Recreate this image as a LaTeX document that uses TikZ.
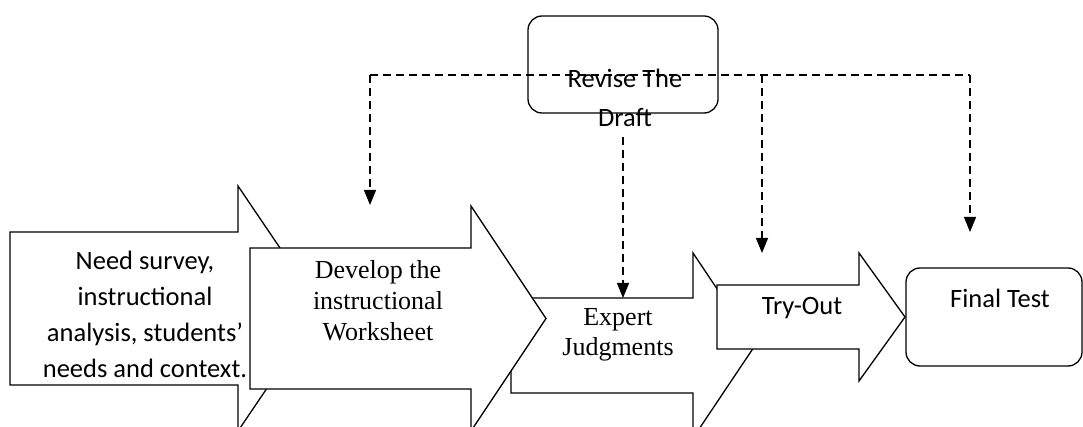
\documentclass[tikz,border=0pt]{standalone}
\usepackage{fontspec}
\setmainfont{Liberation Serif}
\newfontfamily\calfont{Carlito}
\usetikzlibrary{arrows.meta}
\tikzset{
  shp/.style={draw=black, line width=1.3pt, fill=white, line join=miter},
  rbox/.style={draw=black, line width=1.3pt, rounded corners=14pt},
  dsh/.style={line width=1.3pt, dash pattern=on 8pt off 5pt},
  dsharrow/.style={dsh, -{Triangle[width=12pt,length=15pt]}},
  caltext/.style={font=\calfont\fontsize{26.5}{36}\selectfont, align=center, inner sep=0pt},
  timtext/.style={font=\fontsize{26}{31}\selectfont, align=center, inner sep=0pt}
}
\begin{document}
\begin{tikzpicture}[x=1pt,y=-1pt]
\useasboundingbox (0,0) rectangle (1083,427);
\clip (0,0) rectangle (1083,427);
% arrow 1
\draw[shp] (10,232) -- (238,232) -- (238,186) -- (321,308.5) -- (238,431) -- (238,385) -- (10,385) -- cycle;
% arrow 3
\draw[shp] (511,298) -- (693,298) -- (693,253) -- (755,345.5) -- (693,438) -- (693,393) -- (511,393) -- cycle;
% arrow 2
\draw[shp] (250,248) -- (471,248) -- (471,206) -- (546,318.5) -- (471,431) -- (471,389) -- (250,389) -- cycle;
% arrow 4
\draw[shp] (717,285) -- (859,285) -- (859,253) -- (905,317) -- (859,381) -- (859,349) -- (717,349) -- cycle;
% final test box
\draw[rbox] (906,268) rectangle (1082,366);
% revise box
\draw[rbox] (528,16) rectangle (718,113);

\node[caltext] (need) at (145,314) {Need survey,\\instructional\\analysis, students’\\needs and context.};
\node[timtext] (develop) at (378,301) {Develop the\\instructional\\Worksheet};
\node[font=\fontsize{26}{30}\selectfont, align=center, inner sep=0pt] (expert) at (618,335) {Expert\\Judgments};
\node[caltext] (tryout) at (802,308) {Try-Out};
\node[caltext] (final) at (1000,298) {Final Test};
\node[font=\calfont\fontsize{26.5}{39}\selectfont, align=center, inner sep=0pt] (revise) at (625,97.5) {Revise The\\Draft};

\coordinate (hl) at (370,75);
\coordinate (hr) at (970,75);
\coordinate (h3) at (762,75);
\coordinate (t1) at (370,205);
\coordinate (t3) at (762,253);
\coordinate (t4) at (970,232);
\coordinate (ms) at (623,137);
\coordinate (t2) at (623,298);

\draw[dsh] (hl) -- (hr);
\draw[dsharrow] (hl) -- (t1);
\draw[dsharrow] (h3) -- (t3);
\draw[dsharrow] (hr) -- (t4);
\draw[dsharrow] (ms) -- (t2);
\end{tikzpicture}
\end{document}
